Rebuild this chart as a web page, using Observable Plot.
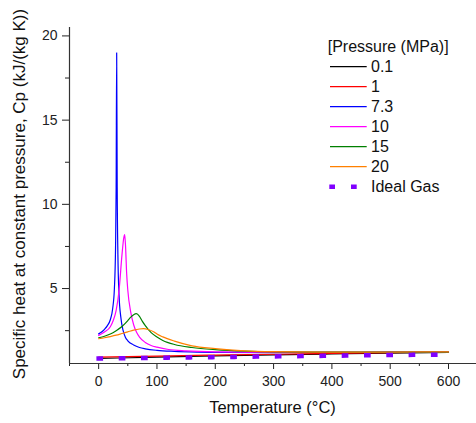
<!DOCTYPE html>
<html>
<head>
<meta charset="utf-8">
<script src="https://cdn.jsdelivr.net/npm/d3@7"></script>
<script src="https://cdn.jsdelivr.net/npm/@observablehq/plot@0.6"></script>
<style>
  body { margin: 0; background: #fff; }
  #chart { width: 476px; height: 423px; }
</style>
</head>
<body>
<div id="chart"></div>
<script>
// ---- Data ----
const pressures = ["0.1", "1", "7.3", "10", "15", "20"];
const colors = ["#000000", "#ff0000", "#0000ff", "#ff00ff", "#008000", "#ff8000"];

const temp01 = [0, 100, 200, 300, 400, 500, 600];
const cp01   = [0.85, 0.93, 1.00, 1.06, 1.12, 1.17, 1.21];

const temp1 = [0, 100, 200, 300, 400, 500, 600];
const cp1   = [0.93, 0.99, 1.05, 1.10, 1.15, 1.19, 1.22];

const temp73 = [0, 5, 10, 15, 20, 24, 27, 29, 30, 30.9, 31.8, 33, 35, 38, 42, 46, 50, 60, 70, 80, 100, 130, 170, 220, 300, 400, 500, 600];
const cp73   = [2.31, 2.42, 2.58, 2.80, 3.15, 3.80, 5.0, 7.5, 11.0, 19.0, 11.0, 7.0, 4.6, 3.3, 2.5, 2.1, 1.9, 1.65, 1.5, 1.42, 1.33, 1.27, 1.23, 1.21, 1.20, 1.21, 1.22, 1.23];

const temp10 = [0, 10, 20, 25, 30, 35, 40, 43, 44.6, 46, 48, 50, 55, 60, 65, 70, 80, 90, 100, 120, 150, 200, 300, 400, 500, 600];
const cp10   = [2.22, 2.42, 2.73, 3.1, 3.7, 4.9, 7.0, 8.0, 8.2, 7.6, 5.9, 4.9, 3.6, 2.85, 2.4, 2.12, 1.8, 1.62, 1.52, 1.38, 1.30, 1.24, 1.21, 1.21, 1.22, 1.23];

const temp15 = [0, 10, 20, 30, 40, 50, 55, 60, 64.6, 70, 75, 80, 90, 100, 110, 130, 160, 200, 250, 300, 400, 500, 600];
const cp15   = [2.08, 2.17, 2.30, 2.50, 2.75, 3.10, 3.30, 3.45, 3.51, 3.35, 3.05, 2.80, 2.38, 2.12, 1.92, 1.68, 1.50, 1.37, 1.28, 1.24, 1.22, 1.22, 1.23];

const temp20 = [0, 10, 20, 30, 40, 50, 60, 70, 77, 85, 95, 100, 110, 130, 160, 200, 250, 300, 400, 500, 600];
const cp20   = [2.02, 2.08, 2.15, 2.23, 2.33, 2.43, 2.53, 2.60, 2.62, 2.57, 2.42, 2.30, 2.13, 1.88, 1.60, 1.43, 1.30, 1.25, 1.22, 1.23, 1.24];

const idealLabel = "Ideal Gas";
const tempIdeal = [0, 100, 200, 300, 400, 500, 600];
const cpIdeal   = [0.85, 0.89, 0.93, 0.97, 1.01, 1.05, 1.08];

const xTicks = [0, 100, 200, 300, 400, 500, 600];
const xMinorTicks = [-50, 50, 150, 250, 350, 450, 550];
const yTicks = [5, 10, 15, 20];
const yMinorTicks = [2.5, 7.5, 12.5, 17.5];

const legendTitle = "[Pressure (MPa)]";
const xLabel = "Temperature (\u00B0C)";
const yLabel = "Specific heat at constant pressure, Cp (kJ/(kg K))";

// ---- Build tables ----
const seriesTemps = [temp01, temp1, temp73, temp10, temp15, temp20];
const seriesCps = [cp01, cp1, cp73, cp10, cp15, cp20];
const rows = [];
pressures.forEach((p, i) => {
  seriesTemps[i].forEach((t, j) => rows.push({p, T: t, cp: seriesCps[i][j]}));
});
const idealRows = tempIdeal.map((t, j) => ({T: t, cp: cpIdeal[j]}));

const FONT = "'Liberation Sans', Arial, Helvetica, sans-serif";
const idealColor = "#8000ff";

const plot = Plot.plot({
  width: 476,
  height: 423,
  marginLeft: 69,
  marginRight: 0,
  marginTop: 27,
  marginBottom: 60,
  x: {domain: [-50, 648]},
  y: {domain: [0.55, 20.5]},
  color: {domain: pressures, range: colors},
  style: {fontFamily: FONT, fontSize: "14px", color: "#222", background: "#fff", overflow: "visible"},
  marks: [
    Plot.axisX({ticks: xTicks, tickSize: 6, tickPadding: 7, label: null, fontSize: 14}),
    Plot.axisX({ticks: xMinorTicks, tickSize: 3, tickFormat: () => "", label: null}),
    Plot.axisY({ticks: yTicks, tickSize: 7, tickPadding: 5, label: null, fontSize: 14}),
    Plot.axisY({ticks: yMinorTicks, tickSize: 4, tickFormat: () => "", label: null}),
    Plot.ruleX([-50], {stroke: "#333", strokeWidth: 1.2}),
    Plot.ruleY([0.55], {stroke: "#333", strokeWidth: 1.2}),
    Plot.line(rows, {x: "T", y: "cp", z: "p", stroke: "p", curve: "monotone-x", strokeWidth: 1.2}),
    Plot.line(idealRows, {x: "T", y: "cp", stroke: idealColor, strokeWidth: 4.5,
      strokeDasharray: "2.2,20.1", strokeLinecap: "square", curve: "monotone-x"})
  ]
});

const svg = d3.select(plot);

// axis titles
svg.append("text")
  .attr("x", 272.5).attr("y", 413)
  .attr("text-anchor", "middle")
  .attr("font-family", FONT).attr("font-size", 16.5).attr("fill", "#111")
  .text(xLabel);

svg.append("text")
  .attr("transform", "translate(24.5,194) rotate(-90)")
  .attr("text-anchor", "middle")
  .attr("font-family", FONT).attr("font-size", 17).attr("fill", "#111")
  .text(yLabel);

// legend
const lg = svg.append("g").attr("font-family", FONT).attr("font-size", 16)
  .attr("fill", "#111").attr("text-anchor", "start");
lg.append("text").attr("x", 327.7).attr("y", 51.7).attr("text-anchor", "start").text(legendTitle);
pressures.forEach((p, i) => {
  const y = 66.7 + 20 * i;
  lg.append("line").attr("x1", 330).attr("x2", 366.7).attr("y1", y).attr("y2", y)
    .attr("stroke", colors[i]).attr("stroke-width", 1.2);
  lg.append("text").attr("x", 371).attr("y", y + 5.7).attr("text-anchor", "start").text(p);
});
{
  const y = 66.7 + 20 * 6;
  lg.append("line").attr("x1", 329.3).attr("x2", 366.7).attr("y1", y).attr("y2", y)
    .attr("stroke", idealColor).attr("stroke-width", 4.5).attr("stroke-dasharray", "5.7,16");
  lg.append("text").attr("x", 371).attr("y", y + 5.7).attr("text-anchor", "start").text(idealLabel);
}

document.getElementById("chart").appendChild(plot);
</script>
</body>
</html>
